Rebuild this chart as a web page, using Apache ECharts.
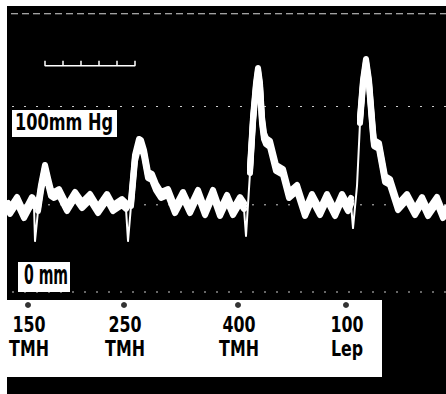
<!DOCTYPE html>
<html>
<head>
<meta charset="utf-8">
<script src="https://cdn.jsdelivr.net/npm/echarts@6/dist/echarts.min.js"></script>
<style>
  html, body { margin: 0; padding: 0; background: #fff; }
  #chart { width: 446px; height: 394px; }
</style>
</head>
<body>
<div id="chart"></div>
<script>
// pressure trace: time (px of record) and pressure (mm Hg)
const traceT = [8, 10, 17, 24, 32, 34, 35, 38, 41, 45, 48, 51, 54, 59, 67, 75, 82, 90, 98, 107, 113, 122, 126,
  128, 131, 135, 139, 141, 144, 148, 152, 156, 161, 168, 175, 183, 190, 198, 205, 213, 220, 227, 233, 240, 244,
  246, 250, 253, 256, 258, 260, 262, 264, 266, 270, 276, 283, 289, 297, 305, 312, 320, 327, 335, 342, 348, 351,
  353, 357, 360, 363, 366, 369, 371, 373, 374, 379, 385, 390, 398, 407, 415, 422, 428, 437, 443, 446];
const traceP = [48.0, 45.3, 51.2, 43.1, 51.2, 49.6, 30.7, 46.9, 57.7, 68.5, 61.5, 55.0, 53.9, 55.5, 46.9, 53.9, 48.5, 52.8, 45.8, 52.8, 46.9, 50.1, 48.0,
  30.7, 49.6, 73.9, 82.5, 81.9, 76.5, 64.7, 63.6, 58.2, 53.9, 55.5, 45.8, 53.9, 45.8, 55.0, 44.7, 55.0, 44.2, 52.3, 44.7, 51.2, 48.0,
  33.4, 67.4, 94.3, 112.7, 120.8, 112.7, 94.3, 85.7, 83.0, 81.4, 68.5, 66.3, 53.9, 57.7, 44.2, 52.8, 44.7, 52.8, 44.2, 52.8, 46.9, 50.7,
  37.7, 60.4, 94.3, 114.3, 125.6, 114.3, 100.8, 87.3, 81.9, 80.3, 62.5, 60.9, 47.4, 52.8, 44.7, 51.2, 44.2, 51.2, 43.1, 45.3];

// fast strokes (dip + upstroke) leave only a thin trace: [from, to] in time
const fastStrokes = [[34, 38], [126, 131], [244, 250], [351, 360]];

// calibration lines (mm Hg)
const calLines = [150, 100, 47, 0];

// time bar ticks
const barTicks = [45, 63, 81, 99, 117, 135];
const barLevel = 122;

// injections
const injT = [28, 124, 238, 346];
const injDose = ['150', '250', '400', '100'];
const injDrug = ['TMH', 'TMH', 'TMH', 'Lep'];
const injLevel = -7;

const font = "'DejaVu Sans Condensed', 'DejaVu Sans', sans-serif";
const smear = [0, 3, 6]; // beam is smeared vertically (px)

const inFast = t => fastStrokes.some(r => t > r[0] && t < r[1]);
const slowData = traceT.map((t, i) => (inFast(t) ? [null, null] : [t, traceP[i]]));
const fastData = [];
fastStrokes.forEach(r => {
  traceT.forEach((t, i) => { if (t >= r[0] && t <= r[1]) fastData.push([t, traceP[i]]); });
  fastData.push([null, null]);
});

const calLine = vals => {
  const d = [];
  vals.forEach(v => { d.push([0, v], [446, v], [null, null]); });
  return d;
};

const barData = [];
barTicks.forEach((x, i) => {
  barData.push([x, barLevel + 2.6]);
  barData.push([x, barLevel]);
  if (i < barTicks.length - 1) barData.push([barTicks[i + 1], barLevel]);
});

const chart = echarts.init(document.getElementById('chart'), null, { renderer: 'svg' });

const grids = [{ left: 0, right: 0, top: 106.5, bottom: 102 }].concat(
  smear.map(s => ({ left: 0, right: 0, top: 106.5 + s, bottom: 102 - s })));
const lowest = grids.length - 1;

const graphic = [
  { type: 'rect', left: 0, top: 0, shape: { width: 7, height: 394 }, style: { fill: '#fff' } },
  { type: 'rect', left: 0, top: 0, shape: { width: 446, height: 6 }, style: { fill: '#fff' } },
  { type: 'rect', left: 7, top: 300, shape: { width: 375, height: 77 }, style: { fill: '#fff' }, z: 0 },
  { type: 'rect', left: 12, top: 110, shape: { width: 105, height: 27 }, style: { fill: '#fff' }, z: 5 },
  { type: 'text', x: 15, y: 122.5, scaleX: 0.78, z: 6,
    style: { text: '100mm Hg', fill: '#000', font: 'bold 23px ' + font, align: 'left', verticalAlign: 'middle' } },
  { type: 'rect', left: 18, top: 262, shape: { width: 52, height: 30 }, style: { fill: '#fff' }, z: 5 },
  { type: 'text', x: 24, y: 275, scaleX: 0.58, z: 6,
    style: { text: '0 mm', fill: '#000', font: 'bold 27px ' + font, align: 'left', verticalAlign: 'middle' } }
];

const slowSeries = smear.map((s, i) => ({
  name: 'trace' + i,
  type: 'line',
  xAxisIndex: i + 1,
  yAxisIndex: i + 1,
  data: slowData,
  clip: false,
  showSymbol: false,
  connectNulls: false,
  lineStyle: { color: '#fff', width: 6, join: 'round', cap: 'round' },
  z: 3
}));

chart.setOption({
  backgroundColor: '#000',
  animation: false,
  grid: grids,
  xAxis: grids.map((g, i) => ({ type: 'value', gridIndex: i, min: 0, max: 446, show: false })),
  yAxis: grids.map((g, i) => ({ type: 'value', gridIndex: i, min: 0, max: 100, show: false })),
  graphic: graphic,
  series: slowSeries.concat([
    {
      name: 'fast',
      type: 'line',
      xAxisIndex: lowest,
      yAxisIndex: lowest,
      data: fastData,
      clip: false,
      showSymbol: false,
      connectNulls: false,
      lineStyle: { color: '#fff', width: 2, join: 'round' },
      z: 3
    },
    {
      name: 'calTop',
      type: 'line',
      data: calLine(calLines.slice(0, 1)),
      clip: false,
      showSymbol: false,
      lineStyle: { color: '#fff', width: 1, type: [7, 4], opacity: 0.85 },
      z: 2
    },
    {
      name: 'cal',
      type: 'line',
      data: calLine(calLines.slice(1)),
      clip: false,
      showSymbol: false,
      lineStyle: { color: '#fff', width: 1, type: [2, 10], opacity: 0.8 },
      z: 2
    },
    {
      name: 'timebar',
      type: 'line',
      data: barData,
      clip: false,
      showSymbol: false,
      lineStyle: { color: '#fff', width: 1.5 },
      z: 3
    },
    {
      name: 'injections',
      type: 'scatter',
      data: injT.map(x => [x, injLevel]),
      clip: false,
      symbol: 'circle',
      symbolSize: 6,
      itemStyle: { color: '#000' },
      z: 6
    }
  ])
});

// injection labels under the dots
injT.forEach((x, i) => {
  const p = chart.convertToPixel({ gridIndex: 0 }, [x, injLevel]);
  graphic.push({ type: 'text', x: p[0] + 1, y: 325, scaleX: 0.8, z: 6,
    style: { text: injDose[i], fill: '#000', font: 'bold 22px ' + font, align: 'center', verticalAlign: 'middle' } });
  graphic.push({ type: 'text', x: p[0] + 1, y: 349, scaleX: 0.8, z: 6,
    style: { text: injDrug[i], fill: '#000', font: 'bold 22px ' + font, align: 'center', verticalAlign: 'middle' } });
});
chart.setOption({ graphic: graphic });
</script>
</body>
</html>
